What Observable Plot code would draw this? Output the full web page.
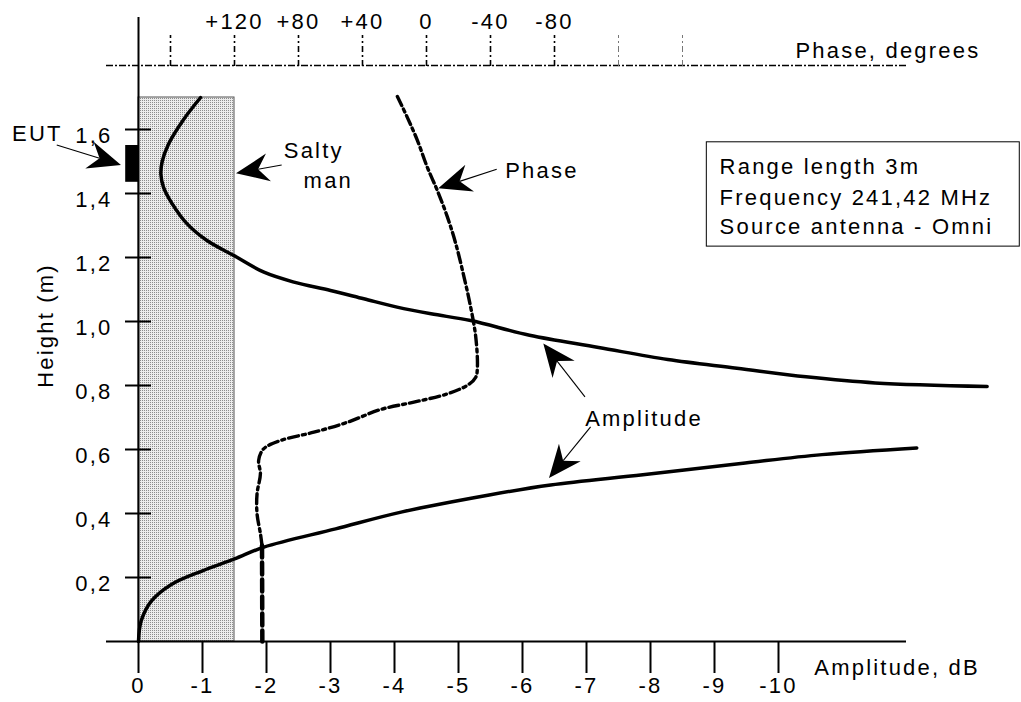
<!DOCTYPE html>
<html><head><meta charset="utf-8">
<script src="https://cdn.jsdelivr.net/npm/d3@7"></script>
<script src="https://cdn.jsdelivr.net/npm/@observablehq/plot@0.6"></script>
<style>
body{margin:0;background:#fff;}
#wrap{position:relative;width:1021px;height:702px;}
#wrap svg{position:absolute;left:0;top:0;}
</style></head><body><div id="wrap"></div>
<script>
// ---------- data ----------
const amplitudeTicks = [0, -1, -2, -3, -4, -5, -6, -7, -8, -9, -10];
const heightTicks = [0.2, 0.4, 0.6, 0.8, 1.0, 1.2, 1.4, 1.6];
const phaseTicks = [160, 120, 80, 40, 0, -40, -80];
const phaseLabelled = [120, 80, 40, 0, -40, -80];
const phaseMinorTicks = [-120, -160];

// [amplitude dB, height m]
const upperAmplitude = [[-0.97,1.70],[-0.70,1.63],[-0.47,1.555],[-0.37,1.50],[-0.35,1.46],[-0.39,1.42],[-0.52,1.37],[-0.76,1.305],[-1.07,1.253],[-1.49,1.206],[-1.96,1.154],[-2.43,1.123],[-3.0,1.097],[-3.52,1.071],[-4.04,1.045],[-4.57,1.024],[-5.19,1.003],[-6.11,0.957],[-7.19,0.919],[-8.27,0.881],[-9.35,0.854],[-10.43,0.827],[-11.51,0.808],[-13.26,0.797]];
const lowerAmplitude = [[0,0],[-0.04,0.063],[-0.2,0.126],[-0.52,0.179],[-1.0,0.221],[-1.5,0.258],[-1.96,0.295],[-3.08,0.352],[-4.12,0.405],[-5.48,0.458],[-6.44,0.489],[-7.88,0.521],[-9.48,0.558],[-10.68,0.584],[-12.16,0.605]];
// [phase degrees, height m]
const phaseUpper = [[18.2,1.703],[12.0,1.638],[5.7,1.566],[-0.5,1.482],[-6.8,1.409],[-13.1,1.326],[-18.3,1.243],[-23.5,1.138],[-27.6,1.045],[-30.8,0.951],[-31.8,0.857],[-30.8,0.826],[-26.1,0.8025],[-13.1,0.774],[7.9,0.748],[28.7,0.725],[49.5,0.685],[70.4,0.654],[91.3,0.628],[101.8,0.602],[104.9,0.566],[103.8,0.524],[105.9,0.462],[105.9,0.399],[103.8,0.337],[102.8,0.30]];
const phaseLower = [[102.8,0.30],[102.6,0.0]];

const saltyMan = [{x1: 0, x2: -1.5, y1: 0, y2: 1.7}];
const eutBlock = [{x1: 0.2, x2: 0, y1: 1.435, y2: 1.55}];
const infoBox = [{x1: -8.88, x2: -13.77, y1: 1.234, y2: 1.56}];
const infoLines = ["Range length 3m", "Frequency 241,42 MHz", "Source antenna - Omni"];
const infoLineHeights = [1.484, 1.3875, 1.294];

const eutLabel = [{x: 1.58, y: 1.5875, text: "EUT"}];
const labels = [
  {x: -2.27, y: 1.534, text: "Salty"},
  {x: -2.58, y: 1.44, text: "man"},
  {x: -5.73, y: 1.472, text: "Phase"},
  {x: -6.98, y: 0.697, text: "Amplitude"},
  {x: -10.56, y: -0.084, text: "Amplitude, dB"}
];
const arrows = [
  {x1: 1.27, y1: 1.55, x2: 0.266, y2: 1.4875},
  {x1: -2.245, y1: 1.4875, x2: -1.531, y2: 1.4616},
  {x1: -5.605, y1: 1.474, x2: -4.692, y2: 1.4147},
  {x1: -6.984, y1: 0.763, x2: -6.333, y2: 0.930},
  {x1: -7.072, y1: 0.669, x2: -6.422, y2: 0.509}
];
const phaseTitle = [{x: -230.6, y: 1.847, text: "Phase, degrees"}];

// ---------- drawing ----------
const FONT = "'Liberation Sans', Arial, sans-serif";
const FS = 22;
const W = 1021, H = 702;
const commaFmt = d => d.toFixed(1).replace(".", ",");
const phaseFmt = d => phaseLabelled.includes(d) ? (d > 0 ? "+" + d : String(d)) : "";

function arrowMark(list) {
  return (index, scales) => {
    const g = d3.create("svg:g");
    for (const a of list) {
      const X0 = scales.x(a.x1), Y0 = scales.y(a.y1), X1 = scales.x(a.x2), Y1 = scales.y(a.y2);
      const dx = X1 - X0, dy = Y1 - Y0, len = Math.hypot(dx, dy);
      const ux = dx / len, uy = dy / len, nx = -uy, ny = ux;
      const L = 33, Wd = 14, K = 0.68;
      g.append("line").attr("x1", X0).attr("y1", Y0)
        .attr("x2", X1 - K * L * ux).attr("y2", Y1 - K * L * uy)
        .attr("stroke", "black").attr("stroke-width", 1.1);
      g.append("path").attr("d",
        `M${X1},${Y1}L${X1 - L*ux + Wd*nx},${Y1 - L*uy + Wd*ny}L${X1 - K*L*ux},${Y1 - K*L*uy}L${X1 - L*ux - Wd*nx},${Y1 - L*uy - Wd*ny}Z`)
        .attr("fill", "black");
    }
    return g.node();
  };
}

const common = {
  width: W, height: H,
  marginLeft: 106, marginRight: 115, marginBottom: 61
};
const textStyle = {fontFamily: FONT, fontSize: FS + "px", letterSpacing: "2.2px", color: "black"};

const main = Plot.plot({
  ...common,
  marginTop: 17,
  style: {...textStyle, background: "white"},
  x: {domain: [0.5, -12], nice: false, axis: null},
  y: {domain: [0, 1.95], nice: false, axis: null},
  marks: [
    Plot.rect(saltyMan, {x1: "x1", x2: "x2", y1: "y1", y2: "y2", fill: "url(#stip)", stroke: "#555", strokeWidth: 1}),
    Plot.ruleY([0], {stroke: "black", strokeWidth: 2}),
    Plot.ruleX([0], {stroke: "black", strokeWidth: 2}),
    Plot.axisX({anchor: "bottom", ticks: amplitudeTicks, tickSize: 32, tickPadding: 4, tickFormat: d => String(d), strokeWidth: 2, fontSize: FS, label: null}),
    Plot.axisY({anchor: "left", ticks: heightTicks, tickSize: 26, dx: 45, tickFormat: () => "", strokeWidth: 2, label: null}),
    Plot.axisY({anchor: "left", ticks: heightTicks, tickSize: 0, tickPadding: 0, dx: 6, dy: 6, tickFormat: commaFmt, fontSize: FS, label: null}),
    Plot.line(upperAmplitude, {x: d => d[0], y: d => d[1], stroke: "black", strokeWidth: 3.5, curve: "catmull-rom"}),
    Plot.line(lowerAmplitude, {x: d => d[0], y: d => d[1], stroke: "black", strokeWidth: 3.5, curve: "catmull-rom"}),
    Plot.rect(eutBlock, {x1: "x1", x2: "x2", y1: "y1", y2: "y2", fill: "black"}),
    Plot.rect(infoBox, {x1: "x1", x2: "x2", y1: "y1", y2: "y2", fill: "none", stroke: "black", strokeWidth: 1}),
    Plot.text(infoLines, {x: () => -9.08, y: (d, i) => infoLineHeights[i], text: d => d, textAnchor: "start", fontSize: FS, fill: "black"}),
    Plot.text(eutLabel, {x: "x", y: "y", text: "text", textAnchor: "middle", fontSize: FS, fill: "black"}),
    Plot.text(labels, {x: "x", y: "y", text: "text", textAnchor: "start", fontSize: FS, fill: "black"}),
    Plot.text(["Height (m)"], {x: () => 1.45, y: () => 0.9875, text: d => d, rotate: -90, fontSize: FS, fill: "black"}),
    arrowMark(arrows)
  ]
});

const defs = d3.select(main).insert("defs", ":first-child");
const pat = defs.append("pattern").attr("id", "stip").attr("width", 2).attr("height", 2).attr("patternUnits", "userSpaceOnUse");
pat.append("rect").attr("width", 2).attr("height", 2).attr("fill", "#ececec");
pat.append("rect").attr("width", 1).attr("height", 1).attr("fill", "#8c8c8c");

const phase = Plot.plot({
  ...common,
  marginTop: 65,
  style: {...textStyle, background: "transparent"},
  x: {domain: [200, -300], nice: false, axis: null},
  y: {domain: [0, 1.8], nice: false, axis: null},
  marks: [
    Plot.ruleY([1.8], {stroke: "black", strokeWidth: 1.5, strokeDasharray: "7,2,2,2"}),
    Plot.axisX({anchor: "top", ticks: phaseTicks, tickSize: 31, tickPadding: 6, tickFormat: phaseFmt, strokeWidth: 1.6, strokeDasharray: "6,3,2,3", fontSize: FS, label: null}),
    Plot.axisX({anchor: "top", ticks: phaseMinorTicks, tickSize: 31, tickFormat: () => "", stroke: "#777", strokeWidth: 1, strokeDasharray: "6,3,2,3", label: null}),
    Plot.line(phaseUpper, {x: d => d[0], y: d => d[1], stroke: "black", strokeWidth: 3.4, strokeDasharray: "10,4,3,4", curve: "catmull-rom"}),
    Plot.line(phaseLower, {x: d => d[0], y: d => d[1], stroke: "black", strokeWidth: 4.5, strokeDasharray: "12,5"}),
    Plot.text(phaseTitle, {x: "x", y: "y", text: "text", textAnchor: "start", fontSize: FS, fill: "black"})
  ]
});

document.getElementById("wrap").append(main, phase);
</script></body></html>
